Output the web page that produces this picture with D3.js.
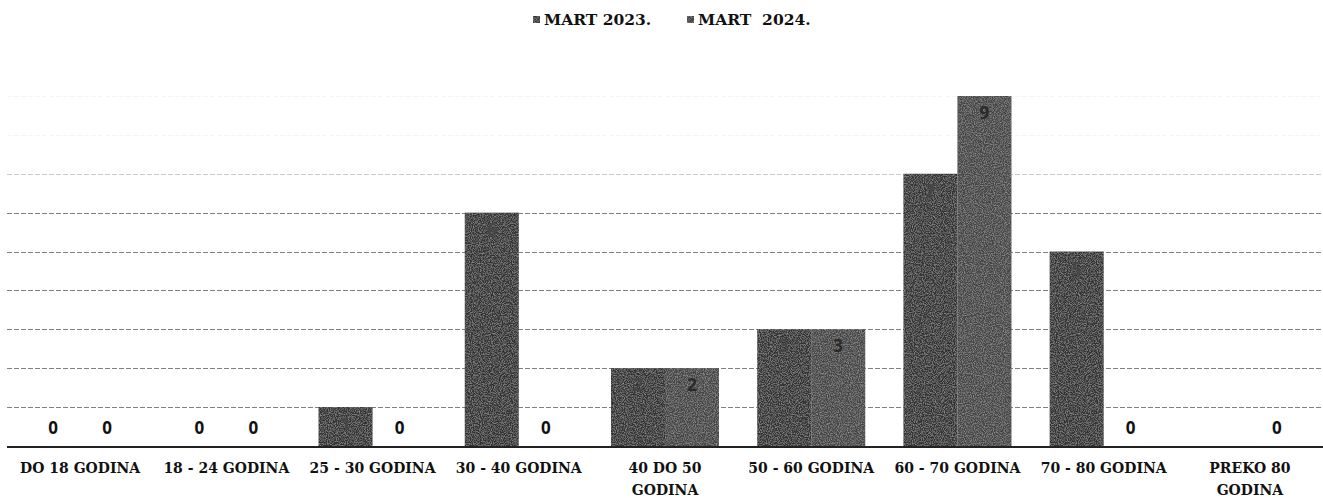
<!DOCTYPE html>
<html>
<head>
<meta charset="utf-8">
<script src="https://cdn.jsdelivr.net/npm/d3@7"></script>
<style>
  html, body { margin: 0; padding: 0; background: #fff; }
  svg { display: block; }
</style>
</head>
<body>
<svg id="chart" width="1323" height="498"></svg>
<script>
// Age groups and counts for each period
const categories = [
  "DO 18 GODINA", "18 - 24 GODINA", "25 - 30 GODINA", "30 - 40 GODINA",
  "40 DO 50 GODINA", "50 - 60 GODINA", "60 - 70 GODINA", "70 - 80 GODINA",
  "PREKO 80 GODINA"
];
const seriesNames = ["MART 2023.", "MART  2024."];
const mart2023 = [0, 0, 1, 6, 2, 3, 7, 5, null];
const mart2024 = [0, 0, 0, 0, 2, 3, 9, 0, 0];
const gridTicks = [1, 2, 3, 4, 5, 6, 7, 8, 9];

const W = 1323, H = 498;
const margin = { left: 7, right: 0, top: 96, bottom: 52 };
const svg = d3.select("#chart");
const serif = "'DejaVu Serif', 'Liberation Serif', serif";
const sans = "'Open Sans', 'Liberation Sans', sans-serif";

const defs = svg.append("defs");
// grainy texture for the bars
const grain = defs.append("filter").attr("id", "grain")
  .attr("x", 0).attr("y", 0).attr("width", 1).attr("height", 1);
grain.append("feTurbulence").attr("type", "fractalNoise")
  .attr("baseFrequency", 0.9).attr("numOctaves", 2).attr("seed", 3).attr("result", "noise");
grain.append("feColorMatrix").attr("in", "noise").attr("type", "matrix")
  .attr("values", "0 0 0 0 0.55  0 0 0 0 0.55  0 0 0 0 0.55  0 0 0 1.0 -0.4").attr("result", "speck");
grain.append("feComposite").attr("in", "speck").attr("in2", "SourceGraphic").attr("operator", "in").attr("result", "speckIn");
grain.append("feMerge").selectAll("feMergeNode")
  .data(["SourceGraphic", "speckIn"]).enter().append("feMergeNode").attr("in", d => d);

const x0 = d3.scaleBand().domain(categories)
  .range([margin.left, W - margin.right]).paddingInner(0).paddingOuter(0);
const groupWidth = 108;
const x1 = d3.scaleBand().domain([0, 1]).range([0, groupWidth]).padding(0);
const y = d3.scaleLinear().domain([0, 9]).range([H - margin.bottom, margin.top]);

const colors = ["#303030", "#444444"];
const labelColors = ["#464646", "#2a2a2a"];

// gridlines
svg.append("g").selectAll("line").data(gridTicks).enter().append("line")
  .attr("x1", margin.left).attr("x2", W)
  .attr("y1", d => Math.round(y(d)) + 0.5).attr("y2", d => Math.round(y(d)) + 0.5)
  .attr("stroke", "#6a6a6a").attr("stroke-width", 1)
  .attr("stroke-dasharray", "5,2")
  .attr("opacity", d => d <= 6 ? 0.85 : (d === 7 ? 0.35 : 0.06));

// bars
const series = [mart2023, mart2024];
const groups = svg.append("g").selectAll("g").data(categories).enter().append("g")
  .attr("transform", d => `translate(${x0(d) + (x0.bandwidth() - groupWidth) / 2},0)`);

groups.each(function (cat, i) {
  const g = d3.select(this);
  series.forEach((vals, s) => {
    const v = vals[i];
    if (v === null) return;
    const bx = x1(s);
    if (v > 0) {
      g.append("rect")
        .attr("x", bx).attr("width", x1.bandwidth())
        .attr("y", y(v)).attr("height", y(0) - y(v))
        .attr("fill", colors[s]).attr("filter", "url(#grain)");
      g.append("text")
        .attr("x", bx + x1.bandwidth() / 2).attr("y", y(v) + 23)
        .attr("text-anchor", "middle")
        .attr("font-family", sans)
        .attr("font-weight", "bold").attr("font-size", 17)
        .attr("fill", labelColors[s]).text(v);
    } else {
      g.append("text")
        .attr("x", bx + x1.bandwidth() / 2).attr("y", y(0) - 12)
        .attr("text-anchor", "middle")
        .attr("font-family", sans)
        .attr("font-weight", "bold").attr("font-size", 17)
        .attr("fill", "#111").text(v);
    }
  });
});

// baseline
svg.append("line")
  .attr("x1", margin.left).attr("x2", W)
  .attr("y1", y(0) + 1).attr("y2", y(0) + 1)
  .attr("stroke", "#222").attr("stroke-width", 2);

// category axis
const xAxis = svg.append("g")
  .attr("transform", `translate(0,${y(0) + 2})`)
  .call(d3.axisBottom(x0).tickSize(0).tickPadding(0));
xAxis.select(".domain").remove();
xAxis.selectAll("text")
  .attr("dy", null)
  .attr("font-family", serif)
  .attr("font-weight", "bold").attr("font-size", 14)
  .attr("fill", "#111")
  .each(function (d) {
    const t = d3.select(this);
    t.text(null);
    const maxW = 128;
    const words = d.split(" ");
    const lines = [];
    let line = [];
    const probe = t.append("tspan");
    words.forEach(w => {
      const trial = line.concat([w]).join(" ");
      probe.text(trial);
      if (probe.node().getComputedTextLength() > maxW && line.length) {
        lines.push(line.join(" "));
        line = [w];
      } else {
        line.push(w);
      }
    });
    lines.push(line.join(" "));
    probe.remove();
    lines.forEach((l, k) => {
      t.append("tspan").attr("x", 0).attr("y", 25 + k * 22).text(l);
    });
  });

// legend
const legend = svg.append("g").attr("transform", "translate(0,20)");
const legendX = [533, 687];
seriesNames.forEach((name, s) => {
  legend.append("rect")
    .attr("x", legendX[s]).attr("y", -4).attr("width", 7).attr("height", 7)
    .attr("fill", colors[s]).attr("filter", "url(#grain)");
  legend.append("text")
    .attr("x", legendX[s] + 11).attr("y", 5)
    .attr("font-family", serif)
    .attr("font-weight", "bold").attr("font-size", 15.5)
    .attr("fill", "#111")
    .attr("xml:space", "preserve")
    .style("white-space", "pre")
    .text(name);
});
</script>
</body>
</html>
